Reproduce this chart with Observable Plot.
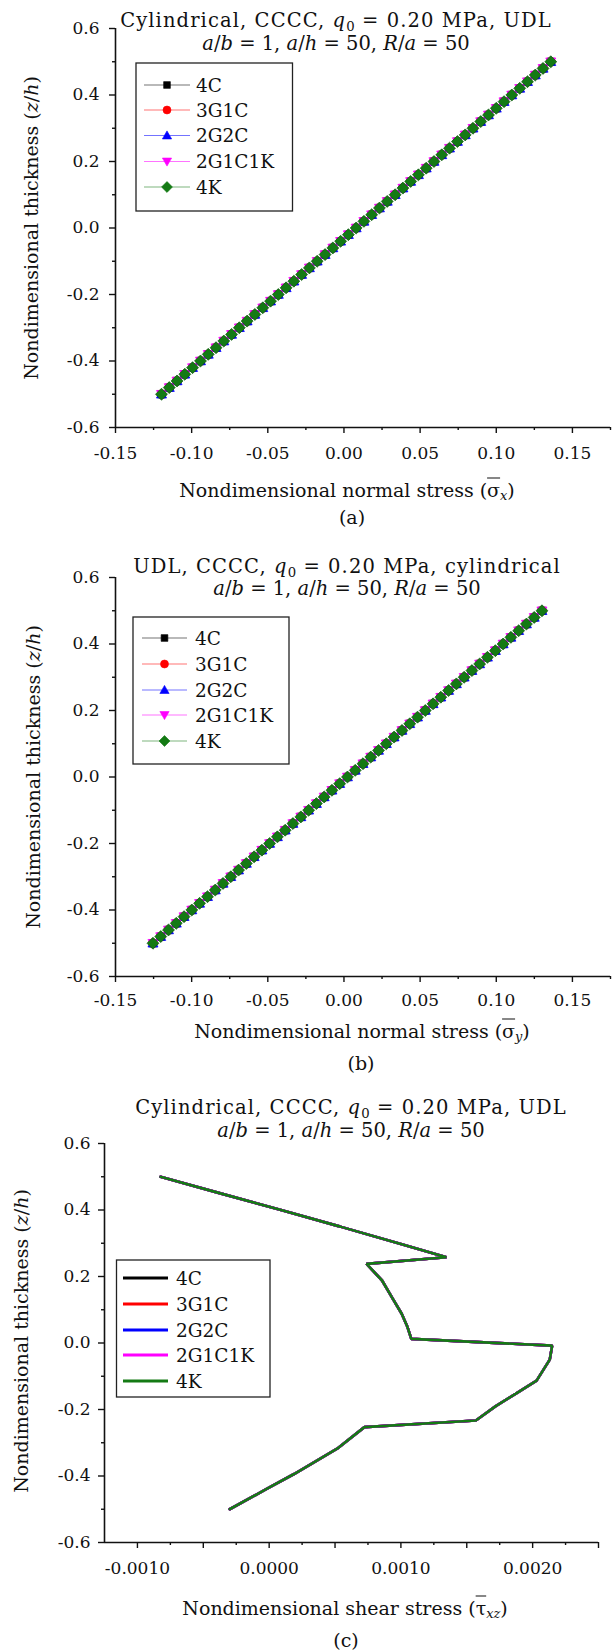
<!DOCTYPE html>
<html><head><meta charset="utf-8">
<script src="https://cdn.jsdelivr.net/npm/d3@7"></script>
<script src="https://cdn.jsdelivr.net/npm/@observablehq/plot@0.6"></script>
<style>
body{margin:0;background:#fff;}
#root{position:relative;width:613px;height:1650px;font-family:"DejaVu Serif",serif;color:#111;overflow:hidden;}
.t{position:absolute;white-space:nowrap;transform:translate(-50%,-50%);line-height:1;}
.wide{letter-spacing:1.1px;}
.ov{text-decoration:overline;text-decoration-thickness:1px;}
sub{font-size:68%;vertical-align:-0.28em;line-height:0;letter-spacing:0;}
.plotsvg{position:absolute;left:0;}
.plotsvg text{font-family:"DejaVu Serif",serif;}
</style></head><body><div id="root"></div>
<script>
// ---------------- data ----------------
const seriesNames = ["4C", "3G1C", "2G2C", "2G1C1K", "4K"];
const seriesColors = ["#000000", "#ff0000", "#0000ff", "#ff00ff", "#147a14"];

// thickness coordinate of the marked points, panels (a) and (b)
const zLevels = [-0.50,-0.48,-0.46,-0.44,-0.42,-0.40,-0.38,-0.36,-0.34,-0.32,
  -0.30,-0.28,-0.26,-0.24,-0.22,-0.20,-0.18,-0.16,-0.14,-0.12,
  -0.10,-0.08,-0.06,-0.04,-0.02,0.00,0.02,0.04,0.06,0.08,
  0.10,0.12,0.14,0.16,0.18,0.20,0.22,0.24,0.26,0.28,
  0.30,0.32,0.34,0.36,0.38,0.40,0.42,0.44,0.46,0.48,0.50];

// (a) normal stress sigma_x (all five schemes coincide)
const sigmaX = [-0.1198,-0.1147,-0.1096,-0.1045,-0.0994,-0.0942,-0.0891,-0.0840,-0.0789,-0.0738,
  -0.0687,-0.0636,-0.0585,-0.0533,-0.0482,-0.0431,-0.0380,-0.0329,-0.0278,-0.0227,
  -0.0176,-0.0124,-0.0073,-0.0022,0.0029,0.0080,0.0131,0.0182,0.0233,0.0284,
  0.0336,0.0387,0.0438,0.0489,0.0540,0.0591,0.0642,0.0693,0.0745,0.0796,
  0.0847,0.0898,0.0949,0.1000,0.1051,0.1102,0.1154,0.1205,0.1256,0.1307,0.1358];

// (b) normal stress sigma_y (all five schemes coincide)
const sigmaY = [-0.1254,-0.1203,-0.1152,-0.1101,-0.1050,-0.0999,-0.0948,-0.0896,-0.0845,-0.0794,
  -0.0743,-0.0692,-0.0641,-0.0590,-0.0539,-0.0488,-0.0437,-0.0386,-0.0335,-0.0283,
  -0.0232,-0.0181,-0.0130,-0.0079,-0.0028,0.0023,0.0074,0.0125,0.0176,0.0227,
  0.0278,0.0329,0.0381,0.0432,0.0483,0.0534,0.0585,0.0636,0.0687,0.0738,
  0.0789,0.0840,0.0891,0.0942,0.0994,0.1045,0.1096,0.1147,0.1198,0.1249,0.1300];

// (c) shear stress tau_xz (all five schemes coincide)
const tauZ = [0.50,0.45,0.40,0.35,0.30,0.258,0.238,0.188,0.138,0.088,0.048,0.0125,
  -0.008,-0.05,-0.113,-0.153,-0.19,-0.233,-0.253,-0.318,-0.394,-0.439,-0.50];
const tauXZ = [-0.000825,-0.00037,0.00009,0.00054,0.00098,0.001346,0.000739,0.000857,0.000931,0.001006,0.00105,0.001079,
  0.002148,0.00213,0.00203,0.00187,0.00172,0.001569,0.000723,0.000516,0.000189,-0.000019,-0.0003];

// ticks
const yMajor = [-0.6,-0.4,-0.2,0,0.2,0.4,0.6];
const yMinor = [-0.5,-0.3,-0.1,0.1,0.3,0.5];
const xMajorAB = [-0.15,-0.10,-0.05,0,0.05,0.10,0.15];
const xMinorAB = [-0.125,-0.075,-0.025,0.025,0.075,0.125,0.175];
const xLabeledC = [-0.001,0,0.001,0.002];
const xPlainC = [-0.0005,0.0005,0.0015,0.0025];
const xMinorC = [-0.00075,-0.00025,0.00025,0.00075,0.00125,0.00175,0.00225];

// ---------------- symbols ----------------
const symbols = [
  {draw(c,s){const r=Math.sqrt(s/Math.PI)*0.8; c.moveTo(-r,-r); c.lineTo(r,-r); c.lineTo(r,r); c.lineTo(-r,r); c.closePath();}},
  {draw(c,s){const r=Math.sqrt(s/Math.PI)*0.95; c.moveTo(r,0); c.arc(0,0,r,0,2*Math.PI); c.closePath();}},
  {draw(c,s){const r=Math.sqrt(s/Math.PI)*1.1; c.moveTo(0,-r); c.lineTo(r,0.75*r); c.lineTo(-r,0.75*r); c.closePath();}},
  {draw(c,s){const r=Math.sqrt(s/Math.PI)*1.1; c.moveTo(0,r); c.lineTo(r,-0.75*r); c.lineTo(-r,-0.75*r); c.closePath();}},
  {draw(c,s){const r=Math.sqrt(s/Math.PI)*1.3; c.moveTo(0,-r); c.lineTo(r,0); c.lineTo(0,r); c.lineTo(-r,0); c.closePath();}}
];
const markerR = 4.6;

const root = document.getElementById("root");
const FONT = "DejaVu Serif";

function rowsFor(xs, zs){ return zs.map((z,i)=>({z, x: xs[i]})); }

function makePanel(cfg){
  const marks = [];
  const ax = {strokeWidth: 1.4, stroke: "#111", label: null, fontFamily: FONT, fontSize: 17, fill: "#111"};
  marks.push(Plot.axisY({...ax, ticks: yMinor, tickSize: 3, tickFormat: () => ""}));
  marks.push(Plot.axisY({...ax, ticks: yMajor, tickSize: 6, tickPadding: cfg.yPad, tickFormat: d => d.toFixed(1)}));
  marks.push(Plot.axisX({...ax, ticks: cfg.xMinor, tickSize: 3, tickFormat: () => ""}));
  if (cfg.xPlain) marks.push(Plot.axisX({...ax, ticks: cfg.xPlain, tickSize: 6, tickFormat: () => ""}));
  marks.push(Plot.axisX({...ax, ticks: cfg.xMajor, tickSize: 6, tickPadding: cfg.xPad, tickFormat: cfg.xFmt}));
  marks.push(Plot.ruleX([cfg.xDomain[0]], {stroke: "#111", strokeWidth: 1.6}));
  marks.push(Plot.ruleY([-0.6], {stroke: "#111", strokeWidth: 1.6}));
  seriesNames.forEach((name, k) => {
    const rows = rowsFor(cfg.xs, cfg.zs);
    marks.push(Plot.line(rows, {x: "x", y: "z", stroke: seriesColors[k], strokeWidth: cfg.lineWidth, strokeOpacity: cfg.markers ? 0.7 : 1, strokeLinejoin: "miter"}));
    if (cfg.markers) marks.push(Plot.dot(rows, {x: "x", y: "z", symbol: symbols[k], r: markerR, fill: seriesColors[k], stroke: k === 4 ? "#0e5e0e" : seriesColors[k], strokeWidth: 0.7}));
  });
  const svg = Plot.plot({
    width: 613, height: cfg.height,
    marginLeft: cfg.ml, marginRight: cfg.mr, marginTop: cfg.mt, marginBottom: cfg.mb,
    x: {domain: cfg.xDomain}, y: {domain: [-0.6, 0.6]},
    style: {fontFamily: FONT, fontSize: "17px", color: "#111", background: "transparent", overflow: "visible"},
    marks
  });
  svg.classList.add("plotsvg");
  svg.style.top = cfg.top + "px";
  svg.style.position = "absolute";
  root.appendChild(svg);
}

makePanel({top: 0, height: 470, mt: 28, mb: 43, ml: 115, mr: 3, xDomain: [-0.15, 0.175],
  xMajor: xMajorAB, xMinor: xMinorAB, xFmt: d => d.toFixed(2), yPad: 10, xPad: 13,
  xs: sigmaX, zs: zLevels, markers: true, lineWidth: 1});
makePanel({top: 540, height: 480, mt: 37, mb: 44, ml: 115, mr: 3, xDomain: [-0.15, 0.175],
  xMajor: xMajorAB, xMinor: xMinorAB, xFmt: d => d.toFixed(2), yPad: 10, xPad: 11,
  xs: sigmaY, zs: zLevels, markers: true, lineWidth: 1});
makePanel({top: 1110, height: 480, mt: 33, mb: 48, ml: 104, mr: 15, xDomain: [-0.00125, 0.0025],
  xMajor: xLabeledC, xPlain: xPlainC, xMinor: xMinorC, xFmt: d => d.toFixed(4), yPad: 8, xPad: 13,
  xs: tauXZ, zs: tauZ, markers: false, lineWidth: 2.6});

// ---------------- texts ----------------
function place(html, cx, cy, size, rot, cls){
  const d = document.createElement("div");
  d.className = "t" + (cls ? " " + cls : "");
  d.style.left = cx + "px"; d.style.top = cy + "px"; d.style.fontSize = size + "px";
  if (rot) d.style.transform = "translate(-50%,-50%) rotate(-90deg)";
  d.innerHTML = html;
  root.appendChild(d);
}
const T1a = "Cylindrical, CCCC, <i>q</i><sub>0</sub> = 0.20 MPa, UDL";
const T1b = "UDL, CCCC, <i>q</i><sub>0</sub> = 0.20 MPa, cylindrical";
const T2 = "<i>a</i>/<i>b</i> = 1, <i>a</i>/<i>h</i> = 50, <i>R</i>/<i>a</i> = 50";
const YL = "Nondimensional thickness (<i>z</i>/<i>h</i>)";

place(T1a, 336, 21, 19.5, false, "wide"); place(T2, 336, 44, 19.5);
place(YL, 31, 228, 19, true);
place("Nondimensional normal stress (<span class='ov'>σ</span><sub><i>x</i></sub>)", 347, 490, 19);
place("(a)", 352, 517, 19);

place(T1b, 347, 567, 19.5, false, "wide"); place(T2, 347, 589, 19.5);
place(YL, 33, 777, 19, true);
place("Nondimensional normal stress (<span class='ov'>σ</span><sub><i>y</i></sub>)", 362, 1031, 19);
place("(b)", 361, 1063, 19);

place(T1a, 351, 1108, 19.5, false, "wide"); place(T2, 351, 1131, 19.5);
place(YL, 21, 1341, 19, true);
place("Nondimensional shear stress (<span class='ov'>τ</span><sub><i>xz</i></sub>)", 345, 1608, 19);
place("(c)", 346, 1640, 19);

// ---------------- legends ----------------
const ov = d3.select(root).append("svg")
  .attr("width", 613).attr("height", 1650)
  .style("position", "absolute").style("left", 0).style("top", 0);

function legend(cfg){
  ov.append("rect").attr("x", cfg.x0).attr("y", cfg.y0).attr("width", cfg.x1 - cfg.x0).attr("height", cfg.y1 - cfg.y0)
    .attr("fill", "#fff").attr("stroke", "#222").attr("stroke-width", 1.3);
  seriesNames.forEach((name, k) => {
    const y = cfg.rows[k];
    ov.append("line").attr("x1", cfg.l0).attr("x2", cfg.l1).attr("y1", y).attr("y2", y)
      .attr("stroke", seriesColors[k]).attr("stroke-width", cfg.lw).attr("stroke-opacity", cfg.markers ? 0.55 : 1);
    if (cfg.markers) {
      const p = d3.path(); symbols[k].draw(p, Math.PI * 4.2 * 4.2);
      ov.append("path").attr("d", p.toString()).attr("transform", `translate(${(cfg.l0 + cfg.l1) / 2},${y})`)
        .attr("fill", seriesColors[k]).attr("stroke", seriesColors[k]).attr("stroke-width", 0.6);
    }
    ov.append("text").attr("x", cfg.tx).attr("y", y).attr("dy", "0.36em")
      .attr("font-family", FONT).attr("font-size", 18.5).attr("fill", "#111").text(name);
  });
}
legend({x0: 136, x1: 292.5, y0: 63, y1: 211, rows: [85, 110, 135.5, 161.5, 187], l0: 144, l1: 190, tx: 196, markers: true, lw: 1});
legend({x0: 133, x1: 289, y0: 617, y1: 764, rows: [638, 664, 690, 715, 741], l0: 142, l1: 187, tx: 195, markers: true, lw: 1});
legend({x0: 116.5, x1: 270, y0: 1260, y1: 1397, rows: [1278, 1304, 1330, 1355, 1381], l0: 123, l1: 168, tx: 176, markers: false, lw: 3});
</script></body></html>
